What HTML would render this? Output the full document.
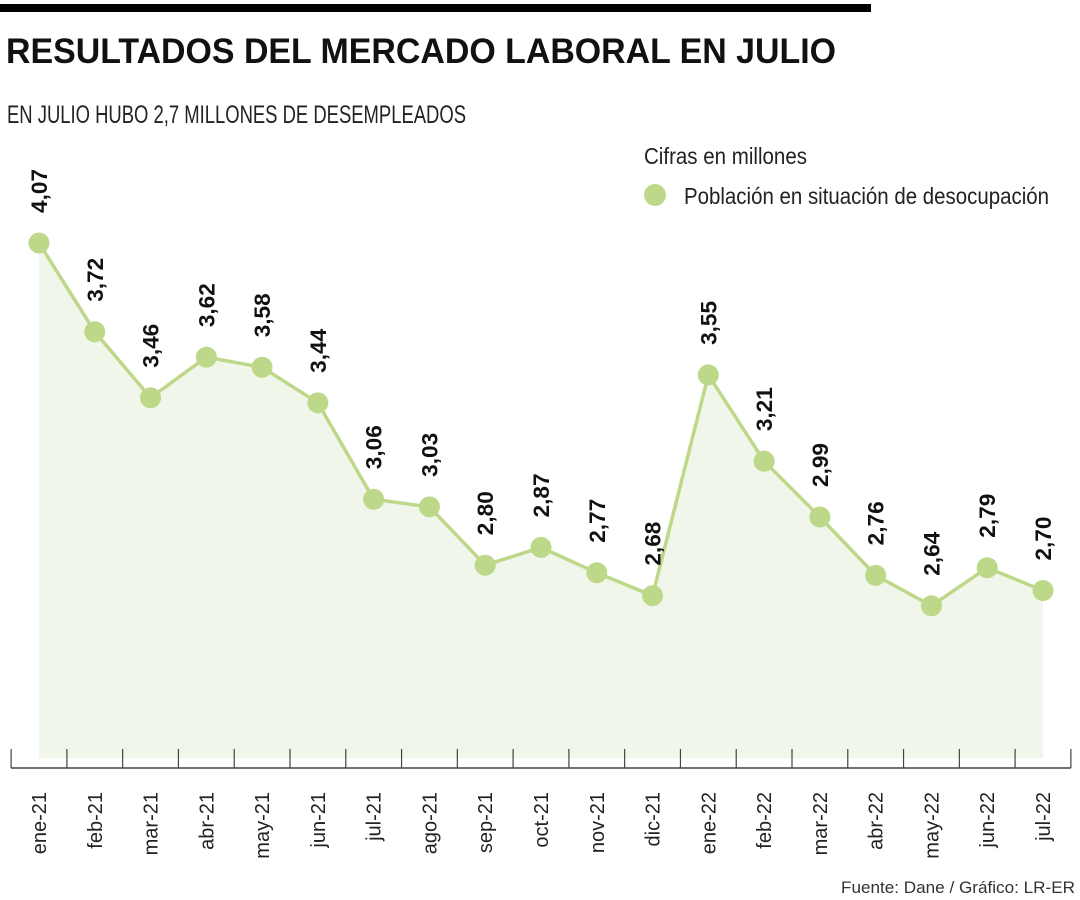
<!DOCTYPE html>
<html><head><meta charset="utf-8"><style>
body{margin:0;background:#fff;}
svg{display:block;font-family:"Liberation Sans Narrow","Liberation Sans",sans-serif;}
</style></head><body>
<svg id="chart" width="1080" height="900" viewBox="0 0 1080 900" xmlns="http://www.w3.org/2000/svg">
<rect x="0" y="4" width="871" height="8" fill="#000"/>
<text x="6" y="63" font-family="Liberation Sans" font-weight="bold" font-size="35" textLength="830" lengthAdjust="spacingAndGlyphs" fill="#111">RESULTADOS DEL MERCADO LABORAL EN JULIO</text>
<text x="7" y="123" font-size="25" textLength="459" lengthAdjust="spacingAndGlyphs" fill="#222">EN JULIO HUBO 2,7 MILLONES DE DESEMPLEADOS</text>
<text x="644" y="164" font-size="23" textLength="163" lengthAdjust="spacingAndGlyphs" fill="#222">Cifras en millones</text>
<circle cx="655" cy="195" r="11" fill="#bed88a"/>
<text x="684" y="204" font-size="23" textLength="365" lengthAdjust="spacingAndGlyphs" fill="#222">Población en situación de desocupación</text>
<g id="plot"></g>
<text x="1075" y="893" text-anchor="end" font-size="17" textLength="234" lengthAdjust="spacingAndGlyphs" fill="#333">Fuente: Dane / Gráfico: LR-ER</text>
</svg>
<script>
const categories=["ene-21","feb-21","mar-21","abr-21","may-21","jun-21","jul-21","ago-21","sep-21","oct-21","nov-21","dic-21","ene-22","feb-22","mar-22","abr-22","may-22","jun-22","jul-22"];
const values=[4.07,3.72,3.46,3.62,3.58,3.44,3.06,3.03,2.80,2.87,2.77,2.68,3.55,3.21,2.99,2.76,2.64,2.79,2.70];
const valueLabels=["4,07","3,72","3,46","3,62","3,58","3,44","3,06","3,03","2,80","2,87","2,77","2,68","3,55","3,21","2,99","2,76","2,64","2,79","2,70"];
const NS="http://www.w3.org/2000/svg";
const g=document.getElementById('plot');
const n=categories.length;
const x0=39,x1=1043;
function xs(i){return x0+(x1-x0)*i/(n-1);}
const step=(x1-x0)/(n-1);
const yMin=2.04,yMax=4.07,py0=758,py1=243;
function ys(v){return py0-(v-yMin)/(yMax-yMin)*(py0-py1);}
function mk(t,a){const e=document.createElementNS(NS,t);for(const k in a)e.setAttribute(k,a[k]);g.appendChild(e);return e;}
let d="M"+xs(0)+","+py0;
values.forEach((v,i)=>{d+=" L"+xs(i)+","+ys(v);});
d+=" L"+xs(n-1)+","+py0+" Z";
const area=mk('path',{d:d,fill:'#f1f6ea'});


const pts=values.map((v,i)=>xs(i)+","+ys(v)).join(" ");
const line=mk('polyline',{points:pts,fill:'none',stroke:'#bed88a','stroke-width':3.5});


const axis=mk('line',{x1:xs(0)-step/2,x2:xs(n-1)+step/2,y1:768,y2:768,stroke:'#444','stroke-width':1.5});


for(let i=0;i<=n;i++){
  const tx=xs(0)-step/2+i*step;
  const t=mk('line',{x1:tx,x2:tx,y1:749,y2:768,stroke:'#444','stroke-width':1.2});
  
  
}
values.forEach((v,i)=>{
  const x=xs(i),y=ys(v);
  const c=mk('circle',{cx:x,cy:y,r:10.5,fill:'#bed88a'});
  
  
  const lb=mk('text',{x:0,y:0,transform:`translate(${x+8},${y-30}) rotate(-90)`,'font-size':22,'font-weight':'bold',textLength:44,lengthAdjust:'spacingAndGlyphs',fill:'#111'});
  lb.textContent=valueLabels[i];
  
  
  const cl=mk('text',{x:0,y:0,transform:`translate(${x+7},${792}) rotate(-90)`,'font-size':20,'text-anchor':'end',fill:'#222'});
  cl.textContent=categories[i];
  
  
});
</script>
</body></html>
